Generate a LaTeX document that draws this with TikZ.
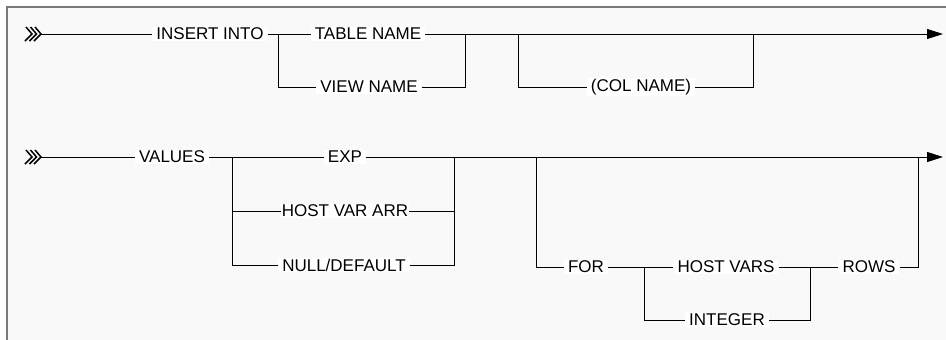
\documentclass[tikz,border=0pt]{standalone}
\usepackage{fontspec}
\setmainfont{Liberation Sans}
\usepackage{tikz}
\usetikzlibrary{arrows.meta}
\newcommand{\kwfont}{\fontsize{17}{19}\selectfont}
\definecolor{framegray}{HTML}{7A7A7A}
\definecolor{panel}{HTML}{F9F9F9}

\begin{document}
\begin{tikzpicture}[x=1pt, y=-1pt,
   kw/.style={fill=white, inner xsep=4pt, inner ysep=1pt, font=\kwfont},
   rail/.style={line width=0.9pt},
   endarrow/.style={-{Triangle[length=16pt,width=10pt]}}]
   \useasboundingbox (0,0) rectangle (946,340);
   \fill[panel] (7,7) rectangle (946,340);
   \draw[framegray, line width=1.5pt] (7,340) -- (7,7) -- (946,7);
   % start marks
   \foreach \y in {34,157} {
      \foreach \x in {26,30.5,35}
         \draw[line width=1.5pt] (\x,\y-7) -- (\x+6,\y) -- (\x-1,\y+7);
   }
   % first line
   \coordinate (s1) at (40,34);
   \node[kw] (ins)  at (210,34) {INSERT INTO};
   \coordinate (b1) at (278,34);
   \node[kw] (tab)  at (368,34) {TABLE NAME};
   \node[kw] (view) at (369,87) {VIEW NAME};
   \coordinate (j1) at (465,34);
   \coordinate (b2) at (518,34);
   \node[kw] (col)  at (641,87) {(COL NAME)};
   \coordinate (j2) at (753,34);
   \coordinate (e1) at (943,34);
   \draw[rail] (s1) -- (ins) -- (tab);
   \draw[rail, endarrow] (tab) -- (e1);
   \draw[rail] (b1) |- (view) -| (j1);
   \draw[rail] (b2) |- (col) -| (j2);
   % second line
   \coordinate (s2) at (40,157);
   \node[kw] (val)  at (172,157) {VALUES};
   \coordinate (b3) at (232,157);
   \node[kw] (exp)  at (345,157) {EXP};
   \node[kw, inner xsep=0.5pt] (hva) at (345,211) {HOST VAR ARR};
   \node[kw] (nul)  at (344,265) {NULL/DEFAULT};
   \coordinate (j3) at (454,157);
   \coordinate (b4) at (536,157);
   \node[kw] (for)  at (586,267) {FOR};
   \coordinate (b5) at (644,267);
   \node[kw] (hv)   at (726,267) {HOST VARS};
   \node[kw] (int)  at (727,320) {INTEGER};
   \coordinate (j5) at (810,267);
   \node[kw] (rows) at (869,267) {ROWS};
   \coordinate (j4) at (918,157);
   \coordinate (e2) at (943,157);
   \draw[rail] (s2) -- (val) -- (exp);
   \draw[rail, endarrow] (exp) -- (e2);
   \draw[rail] (b3) |- (hva) -| (j3);
   \draw[rail] (b3) |- (nul) -| (j3);
   \draw[rail] (b4) |- (for) -- (hv) -- (rows) -| (j4);
   \draw[rail] (b5) |- (int) -| (j5);
\end{tikzpicture}
\end{document}
